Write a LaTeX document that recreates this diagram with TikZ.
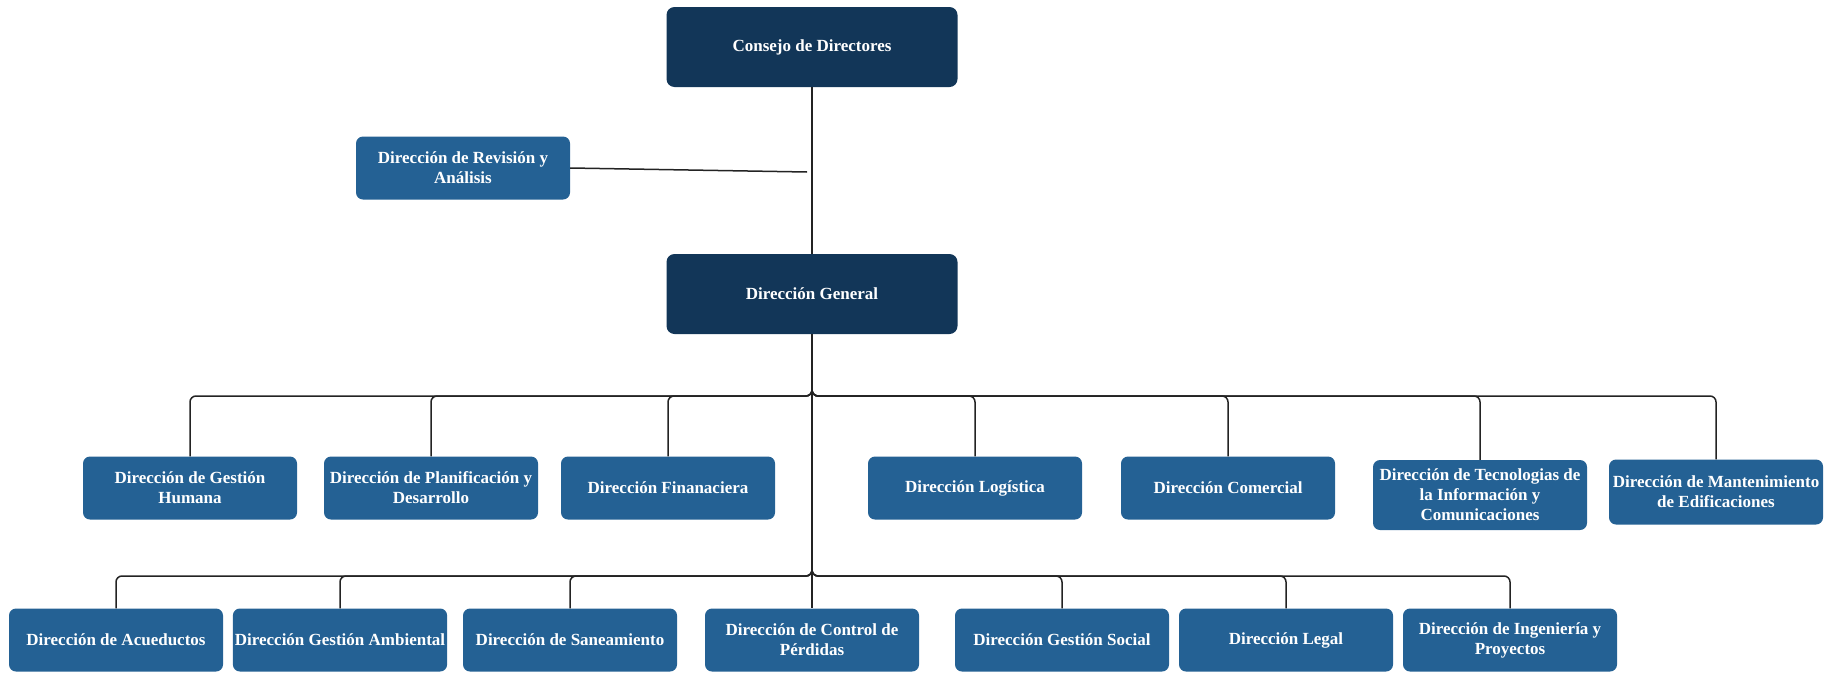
\documentclass[tikz,border=0pt]{standalone}
\usepackage{fontspec}
\setmainfont{Liberation Serif}
\definecolor{navy}{RGB}{18,54,88}
\definecolor{steel}{RGB}{36,97,148}
\definecolor{wire}{RGB}{35,35,35}

\begin{document}
\begin{tikzpicture}[x=1pt,y=-1pt]
\tikzstyle{every node}+=[inner sep=2pt,text=white,align=center,font=\fontsize{17}{20}\selectfont\bfseries]
\tikzstyle{bossbox}=[fill=navy,rounded corners=8pt,minimum width=291pt,minimum height=80pt]
\tikzstyle{dirbox}=[fill=steel,rounded corners=7pt,minimum width=214pt,minimum height=63pt]
\tikzstyle{wire}=[draw=wire,line width=1.5pt,rounded corners=6pt]
\useasboundingbox (0,0) rectangle (1846,672);
\node [bossbox] (consejo) at (812,47) {Consejo de Directores};
\node [bossbox] (general) at (812,294) {Dirección General};
\node [dirbox] (revision) at (463,168) {Dirección de Revisión y\\Análisis};
\node [dirbox] (humana) at (190,488) {Dirección de Gestión\\Humana};
\node [dirbox] (planif) at (431,488) {Dirección de Planificación y\\Desarrollo};
\node [dirbox] (finanzas) at (668,488) {Dirección Finanaciera};
\node [dirbox] (logistica) at (975,488) {Dirección Logística};
\node [dirbox] (comercial) at (1228,488) {Dirección Comercial};
\node [dirbox,minimum height=70pt] (tic) at (1480,495) {Dirección de Tecnologias de\\la Información y\\Comunicaciones};
\node [dirbox,minimum height=65pt] (edif) at (1716,492) {Dirección de Mantenimiento\\de Edificaciones};
\node [dirbox] (acueductos) at (116,640) {Dirección de Acueductos};
\node [dirbox] (ambiental) at (340,640) {Dirección Gestión Ambiental};
\node [dirbox] (saneam) at (570,640) {Dirección de Saneamiento};
\node [dirbox] (perdidas) at (812,640) {Dirección de Control de\\Pérdidas};
\node [dirbox] (social) at (1062,640) {Dirección Gestión Social};
\node [dirbox] (legal) at (1286,640) {Dirección Legal};
\node [dirbox] (ingenieria) at (1510,640) {Dirección de Ingeniería y\\Proyectos};
\coordinate (revjoin) at (807,172);
\coordinate (bus1) at (812,396);
\coordinate (bus2) at (812,576);
\draw [wire] (consejo.south) -- (general.north);
\draw [wire] (revision.east) -- (revjoin);
\draw [wire] (general.south) -- (bus1) -| (humana.north);
\draw [wire] (general.south) -- (bus1) -| (planif.north);
\draw [wire] (general.south) -- (bus1) -| (finanzas.north);
\draw [wire] (general.south) -- (bus1) -| (logistica.north);
\draw [wire] (general.south) -- (bus1) -| (comercial.north);
\draw [wire] (general.south) -- (bus1) -| (tic.north);
\draw [wire] (general.south) -- (bus1) -| (edif.north);
\draw [wire] (general.south) -- (bus2) -| (acueductos.north);
\draw [wire] (general.south) -- (bus2) -| (ambiental.north);
\draw [wire] (general.south) -- (bus2) -| (saneam.north);
\draw [wire] (general.south) -- (perdidas.north);
\draw [wire] (general.south) -- (bus2) -| (social.north);
\draw [wire] (general.south) -- (bus2) -| (legal.north);
\draw [wire] (general.south) -- (bus2) -| (ingenieria.north);
\end{tikzpicture}
\end{document}
